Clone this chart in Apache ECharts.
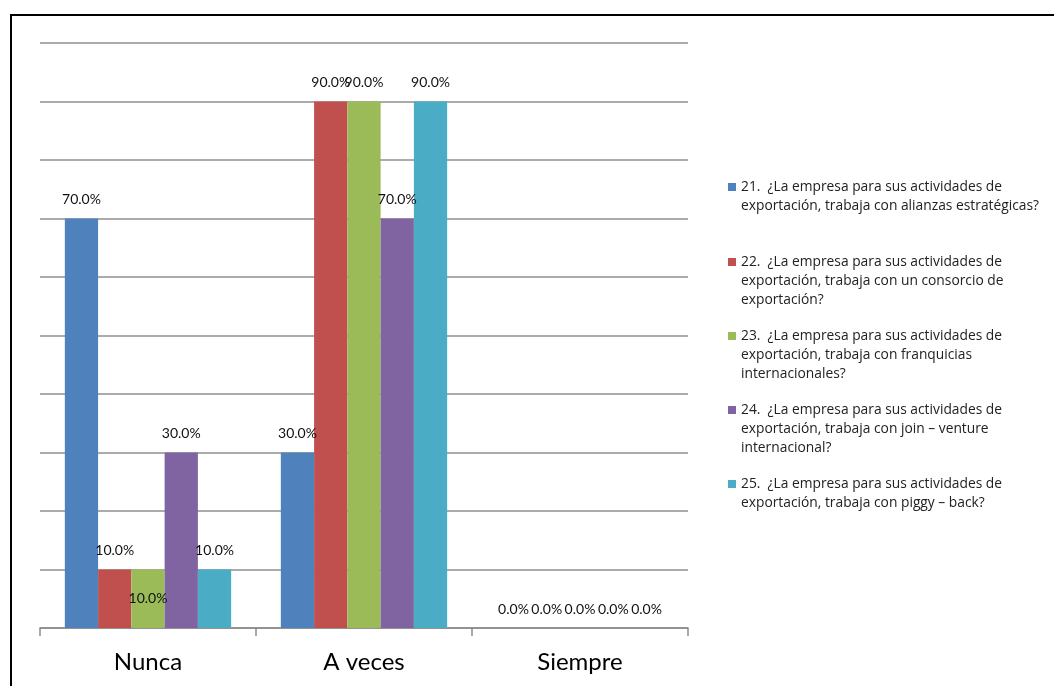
<!DOCTYPE html>
<html>
<head>
<meta charset="utf-8">
<script src="https://cdn.jsdelivr.net/npm/echarts@6/dist/echarts.min.js"></script>
<style>
  html, body { margin: 0; padding: 0; background: #fff; }
  #chart { width: 1054px; height: 686px; }
</style>
</head>
<body>
<div id="chart"></div>
<script>
// categorías del eje x
const categories = ["Nunca", "A veces", "Siempre"];

// nombres de las series (texto de la leyenda)
const names = [
  "21.  ¿La empresa para sus actividades de\nexportación, trabaja con alianzas estratégicas?",
  "22.  ¿La empresa para sus actividades de\nexportación, trabaja con un consorcio de\nexportación?",
  "23.  ¿La empresa para sus actividades de\nexportación, trabaja con franquicias\ninternacionales?",
  "24.  ¿La empresa para sus actividades de\nexportación, trabaja con join – venture\ninternacional?",
  "25.  ¿La empresa para sus actividades de\nexportación, trabaja con piggy – back?"
];

// valores en porcentaje
const p21 = [70, 30, 0];
const p22 = [10, 90, 0];
const p23 = [10, 90, 0];
const p24 = [30, 70, 0];
const p25 = [10, 90, 0];

const colors = ["#4F81BD", "#C0504D", "#9BBB59", "#8064A2", "#4BACC6"];
const values = [p21, p22, p23, p24, p25];

// centro de la primera línea de cada entrada de la leyenda
const legendRows = [187, 262, 336, 410, 484];
const lineH = 19;

let chart = echarts.init(document.getElementById("chart"));

let legends = names.map((name, i) => {
  let n = name.split("\n").length;
  return {
    data: [name],
    left: 728,
    top: legendRows[i] - ((2 * n - 1) * lineH) / 2,
    padding: 0,
    icon: "rect",
    itemWidth: 8,
    itemHeight: 8,
    selectedMode: false,
    formatter: nm => "\n".repeat(n - 1) + nm,
    textStyle: { fontFamily: "Open Sans", fontSize: 13.8, lineHeight: lineH, color: "#222" }
  };
});

let series = values.map((vals, i) => ({
  name: names[i],
  type: "bar",
  barGap: "0%",
  barCategoryGap: "23%",
  itemStyle: { color: colors[i] },
  label: {
    show: true,
    position: "top",
    distance: 12,
    fontFamily: "Lato",
    fontSize: 14,
    color: "#111",
    formatter: p => p.value.toFixed(1) + "%"
  },
  data: vals.map((v, j) =>
    // la etiqueta verde de "Nunca" aparece dentro de la barra
    i === 2 && j === 0 ? { value: v, label: { position: "inside" } } : v
  )
}));

let option = {
  animation: false,
  grid: { left: 40, right: 366, top: 43, bottom: 58 },
  legend: legends,
  xAxis: {
    type: "category",
    data: categories,
    axisLine: { lineStyle: { color: "#8a8a8a", width: 1.5 } },
    axisTick: { show: true, length: 8, lineStyle: { color: "#8a8a8a", width: 1.5 } },
    axisLabel: { fontFamily: "Lato", fontSize: 24, color: "#000", margin: 22 }
  },
  yAxis: {
    type: "value",
    min: 0,
    max: 100,
    interval: 10,
    axisLabel: { show: false },
    axisLine: { show: false },
    axisTick: { show: false },
    splitLine: { lineStyle: { color: "#8f8f8f", width: 1.5 } }
  },
  graphic: [
    {
      type: "polyline",
      shape: { points: [[11, 686], [11, 15], [1054, 15]] },
      style: { stroke: "#000", lineWidth: 2, fill: null }
    }
  ],
  series: series
};

chart.setOption(option);
</script>
</body>
</html>
